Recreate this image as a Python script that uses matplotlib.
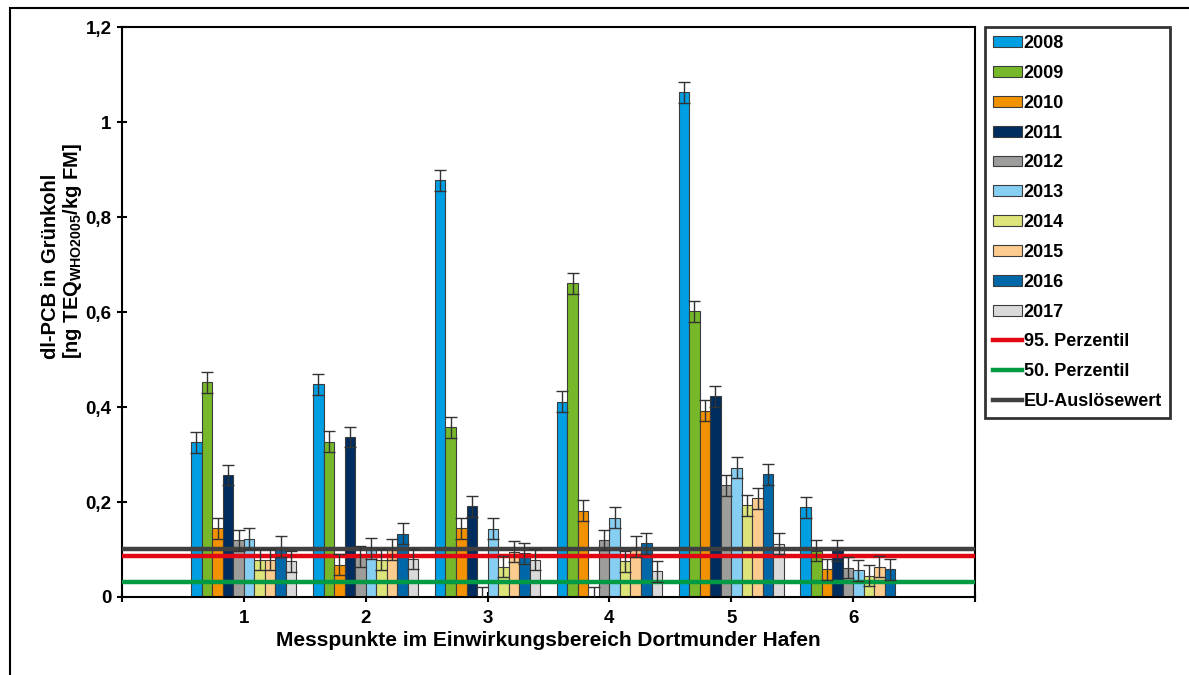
import numpy as np
import matplotlib.pyplot as plt
from matplotlib.patches import Rectangle
from matplotlib.lines import Line2D
from matplotlib.patches import Patch

plt.rcParams['font.family'] = ['Liberation Sans', 'DejaVu Sans']
plt.rcParams['font.weight'] = 'bold'
plt.rcParams['mathtext.fontset'] = 'custom'
plt.rcParams['mathtext.rm'] = 'Liberation Sans:bold'
plt.rcParams['mathtext.it'] = 'Liberation Sans:bold'
plt.rcParams['mathtext.bf'] = 'Liberation Sans:bold'

points = [1, 2, 3, 4, 5, 6]
years = ['2008', '2009', '2010', '2011', '2012', '2013', '2014', '2015', '2016', '2017']
colors = ['#009FE3', '#76B82A', '#F39200', '#002D5F', '#9D9D9C',
          '#86CEF2', '#DCE47A', '#FCCB8E', '#0068A8', '#DADADA']

# dl-PCB per Messpunkt, one list per year
v2008 = [0.326, 0.448, 0.878, 0.411, 1.063, 0.189]
v2009 = [0.452, 0.327, 0.357, 0.661, 0.602, 0.097]
v2010 = [0.145, 0.068, 0.145, 0.182, 0.392, 0.058]
v2011 = [0.257, 0.337, 0.191, 0.000, 0.423, 0.098]
v2012 = [0.119, 0.085, 0.000, 0.120, 0.235, 0.062]
v2013 = [0.123, 0.103, 0.144, 0.167, 0.272, 0.056]
v2014 = [0.078, 0.078, 0.064, 0.075, 0.193, 0.045]
v2015 = [0.078, 0.100, 0.095, 0.106, 0.208, 0.064]
v2016 = [0.106, 0.133, 0.092, 0.113, 0.258, 0.058]
v2017 = [0.075, 0.080, 0.078, 0.054, 0.112, np.nan]
values = [v2008, v2009, v2010, v2011, v2012, v2013, v2014, v2015, v2016, v2017]
err = 0.022

p95 = 0.087
p50 = 0.032
eu = 0.100

fig = plt.figure(figsize=(11.89, 6.75), dpi=100)
ax = fig.add_axes([0.1026, 0.1156, 0.7174, 0.844])

x = np.array(points, dtype=float)
w = 0.0864
for i, (yr, vals) in enumerate(zip(years, values)):
    pos = x + (i - 4.5) * w
    vals = np.array(vals)
    ax.bar(pos, vals, width=w, color=colors[i], edgecolor='#3c3c3c',
           linewidth=0.8, zorder=2, label=yr)
    ax.errorbar(pos, vals, yerr=err, fmt='none', ecolor='#333333',
                elinewidth=1, capsize=4, capthick=1, zorder=4)

ax.axhline(eu, color='#404040', lw=3.2, zorder=3)
ax.axhline(p95, color='#E30613', lw=3.2, zorder=3)
ax.axhline(p50, color='#009A44', lw=3.2, zorder=3)

ax.set_xlim(0, 7)
ax.set_ylim(0, 1.2)
ax.set_xticks(range(0, 8))
ax.set_xticklabels([''] + [str(p) for p in points] + [''])
yt = [0, 0.2, 0.4, 0.6, 0.8, 1.0, 1.2]
ax.set_yticks(yt)
ax.set_yticklabels(['0', '0,2', '0,4', '0,6', '0,8', '1', '1,2'])
ax.tick_params(axis='both', labelsize=13.5, direction='inout', length=7, width=1.5)
ax.tick_params(axis='x', pad=6)
ax.tick_params(axis='y', pad=4)
for s in ax.spines.values():
    s.set_linewidth(1.5)
    s.set_color('black')

ax.set_xlabel('Messpunkte im Einwirkungsbereich Dortmunder Hafen',
              fontsize=15, fontweight='bold', labelpad=3)
ax.set_ylabel('dl-PCB in Grünkohl\n[ng TEQ$_{WHO2005}$/kg FM]',
              fontsize=14.5, fontweight='bold', linespacing=1.05,
              multialignment='left')
ax.yaxis.set_label_coords(-0.045, 0.607)

handles = [Patch(facecolor=c, edgecolor='#3c3c3c', linewidth=0.8) for c in colors]
handles += [Line2D([], [], color='#E30613', lw=3.2),
            Line2D([], [], color='#009A44', lw=3.2),
            Line2D([], [], color='#404040', lw=3.2)]
labels = years + ['95. Perzentil', '50. Perzentil', 'EU-Auslösewert']
leg = fig.legend(handles, labels, loc='upper left',
                 bbox_to_anchor=(985 / 1189, 1 - 27 / 675),
                 fontsize=13, frameon=True, fancybox=False,
                 handlelength=1.6, handleheight=0.55, handletextpad=0.1,
                 labelspacing=0.71, borderpad=0.45, borderaxespad=0)
leg.get_frame().set_edgecolor('black')
leg.get_frame().set_linewidth(2)

# outer chart frame, open to the right and bottom edge
fig.patches.append(Rectangle((10 / 1189, -0.2), 1.5, 0.2 + 1 - 8 / 675,
                             transform=fig.transFigure, fill=False,
                             edgecolor='black', linewidth=1.5))

fig.savefig('out.png', dpi=100)
